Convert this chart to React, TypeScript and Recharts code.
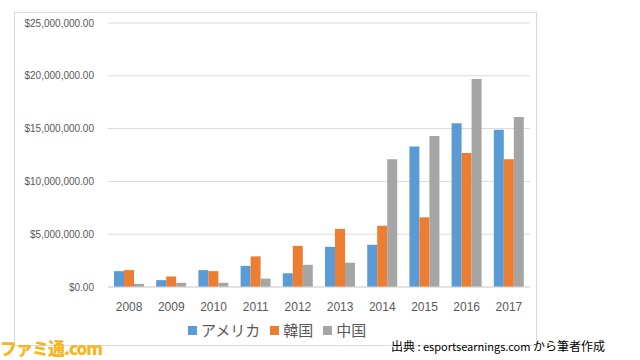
import React from "react";
import {
  BarChart,
  Bar,
  XAxis,
  YAxis,
  CartesianGrid,
} from "recharts";

const years = ["2008", "2009", "2010", "2011", "2012", "2013", "2014", "2015", "2016", "2017"];
const america = [1500000, 650000, 1600000, 2000000, 1300000, 3800000, 4000000, 13300000, 15500000, 14900000];
const korea = [1600000, 1000000, 1500000, 2900000, 3900000, 5500000, 5800000, 6600000, 12700000, 12100000];
const china = [300000, 400000, 400000, 800000, 2100000, 2300000, 12100000, 14300000, 19700000, 16100000];
const yTicks = [0, 5000000, 10000000, 15000000, 20000000, 25000000];

const series = [
  { key: "america", name: "アメリカ", color: "#5B9BD5" },
  { key: "korea", name: "韓国", color: "#ED7D31" },
  { key: "china", name: "中国", color: "#A5A5A5" },
];

const data = years.map((year, i) => ({
  year,
  america: america[i],
  korea: korea[i],
  china: china[i],
}));

const fmtMoney = (v: number) =>
  "$" + v.toLocaleString("en-US", { minimumFractionDigits: 2, maximumFractionDigits: 2 });

const JP = '"Noto Sans CJK JP", "Noto Sans", sans-serif';

const App = () => {
  return (
    <div
      style={{
        position: "absolute",
        left: 0,
        top: 0,
        width: 640,
        height: 360,
        background: "#ffffff",
        overflow: "hidden",
      }}
    >
      {/* chart frame */}
      <div
        style={{
          position: "absolute",
          left: 14,
          top: 12,
          width: 523,
          height: 334,
          border: "1px solid #d9d9d9",
          boxSizing: "border-box",
        }}
      />
      <div style={{ position: "absolute", left: 0, top: 0 }}>
        <BarChart
          width={640}
          height={360}
          data={data}
          margin={{ top: 23, right: 110, left: 0, bottom: 43 }}
          barGap={0}
          barCategoryGap={6}
        >
          <CartesianGrid vertical={false} stroke="#d9d9d9" />
          <XAxis
            dataKey="year"
            height={30}
            tickLine={false}
            axisLine={{ stroke: "#d9d9d9" }}
            tickMargin={9}
            tick={{ fill: "#595959", fontSize: 12, fontFamily: "Liberation Sans, sans-serif" }}
          />
          <YAxis
            width={108}
            domain={[0, 25000000]}
            ticks={yTicks}
            tickFormatter={fmtMoney}
            axisLine={false}
            tickLine={false}
            tickMargin={8}
            tick={{ fill: "#595959", fontSize: 10, fontFamily: "Liberation Sans, sans-serif" }}
          />
          {series.map((s) => (
            <Bar
              key={s.key}
              dataKey={s.key}
              name={s.name}
              fill={s.color}
              isAnimationActive={false}
            />
          ))}
        </BarChart>
      </div>
      {/* legend */}
      <div
        style={{
          position: "absolute",
          left: 188,
          top: 320,
          display: "flex",
          alignItems: "center",
          gap: 10,
          fontFamily: JP,
          fontSize: 15,
          color: "#595959",
          lineHeight: "20px",
        }}
      >
        {series.map((s) => (
          <div key={s.key} style={{ display: "flex", alignItems: "center" }}>
            <span
              style={{
                display: "inline-block",
                width: 9,
                height: 9,
                background: s.color,
                marginRight: 4,
              }}
            />
            <span>{s.name}</span>
          </div>
        ))}
      </div>
      {/* source note */}
      <div
        style={{
          position: "absolute",
          left: 391,
          top: 338,
          fontFamily: JP,
          fontSize: 12,
          color: "#000000",
          lineHeight: "16px",
          whiteSpace: "nowrap",
        }}
      >
        出典<span style={{ fontSize: 11 }}> : esportsearnings.com </span>から筆者作成
      </div>
      {/* watermark */}
      <div
        style={{
          position: "absolute",
          left: 0,
          top: 337,
          fontFamily: JP,
          fontWeight: 900,
          fontSize: 17,
          color: "#F5B622",
          lineHeight: "21px",
          whiteSpace: "nowrap",
          letterSpacing: -1,
        }}
      >
        ファミ通.com
      </div>
    </div>
  );
};

export default App;
